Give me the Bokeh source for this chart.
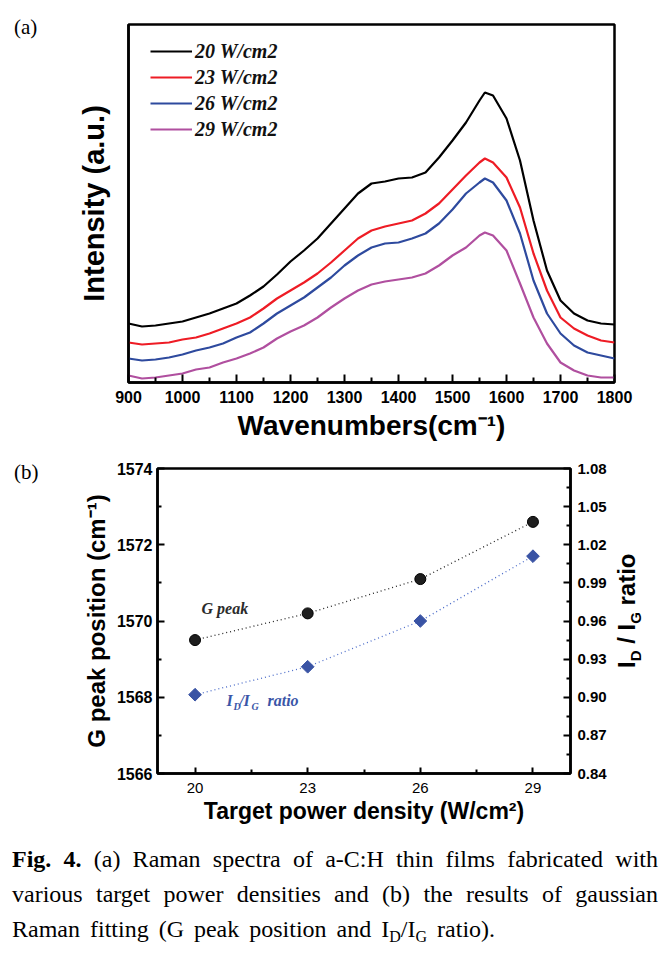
from math import pi
from bokeh.plotting import figure
from bokeh.models import (Range1d, LinearAxis, FixedTicker, Legend, LegendItem,
                          Label, Div, PrintfTickFormatter)
from bokeh.layouts import column, row
from bokeh.embed import file_html
from bokeh.resources import INLINE

# ---------------- data: (a) Raman spectra (arbitrary units) ----------------
wavenumber = [900, 925, 950, 975, 1000, 1025, 1050, 1075, 1100, 1125, 1150, 1175,
              1200, 1225, 1250, 1275, 1300, 1325, 1350, 1375, 1400, 1425, 1450, 1475,
              1500, 1525, 1550, 1560, 1575, 1600, 1625, 1650, 1675, 1700, 1725, 1750,
              1775, 1800]
spec_20 = [59, 56, 57, 59, 61, 65, 69, 74, 79, 87, 96, 108,
           121, 132, 144, 159, 174, 189, 199, 201, 204, 205, 210, 225,
           242, 260, 282, 290, 287, 264, 222, 162, 112, 82, 69, 62, 59, 58]
spec_23 = [40, 38, 39, 40, 43, 45, 49, 54, 59, 65, 74, 84,
           92, 100, 109, 120, 132, 144, 152, 156, 159, 162, 169, 179,
           193, 207, 220, 224, 220, 205, 175, 129, 92, 65, 54, 47, 42, 40]
spec_26 = [24, 22, 23, 25, 28, 32, 35, 39, 45, 50, 59, 69,
           77, 85, 95, 105, 117, 127, 135, 139, 140, 144, 149, 159,
           173, 189, 200, 204, 200, 182, 149, 102, 69, 49, 37, 30, 27, 24]
spec_29 = [7, 4, 5, 7, 9, 13, 15, 20, 24, 29, 35, 44,
           51, 57, 65, 75, 84, 92, 98, 101, 103, 105, 109, 117,
           127, 135, 147, 150, 147, 132, 99, 65, 39, 20, 12, 7, 5, 5]
series_labels = ["20 W/cm2", "23 W/cm2", "26 W/cm2", "29 W/cm2"]
series_colors = ["#000000", "#ee1c25", "#2e4a9e", "#b04f9f"]
xa_ticks = [900, 1000, 1100, 1200, 1300, 1400, 1500, 1600, 1700, 1800]
xa_minor = [950, 1050, 1150, 1250, 1350, 1450, 1550, 1650, 1750]

# ---------------- data: (b) fitting results ----------------
power = [20, 23, 26, 29]
g_peak = [1569.5, 1570.2, 1571.1, 1572.6]
id_ig = [0.902, 0.924, 0.960, 1.011]
xb_ticks = [20, 23, 26, 29]
xb_minor = [21.5, 24.5, 27.5]
yb_ticks = [1566, 1568, 1570, 1572, 1574]
yb_minor = [1567, 1569, 1571, 1573]
yr_ticks = [0.84, 0.87, 0.90, 0.93, 0.96, 0.99, 1.02, 1.05, 1.08]
yr_minor = [0.855, 0.885, 0.915, 0.945, 0.975, 1.005, 1.035, 1.065]

SANS = "Liberation Sans"
SERIF = "Liberation Serif"
BORDER_L = 80
BORDER_R = 44


def style_axis(ax, tick_in, minor_in, lab_size, lab_style, standoff):
    ax.axis_line_width = 2.5
    ax.axis_line_color = "black"
    ax.major_tick_line_width = 2
    ax.minor_tick_line_width = 2
    ax.major_tick_in = tick_in
    ax.major_tick_out = 0
    ax.minor_tick_in = minor_in
    ax.minor_tick_out = 0
    ax.major_label_text_font = SANS
    ax.major_label_text_font_style = lab_style
    ax.major_label_text_font_size = lab_size
    ax.major_label_text_color = "black"
    ax.major_label_standoff = standoff
    ax.axis_label_text_font = SANS
    ax.axis_label_text_font_style = "bold"
    ax.axis_label_text_color = "black"


def tag_div(text, w, h, top):
    html = ('<div style="position:relative;width:%dpx;height:%dpx;">'
            '<span style="position:absolute;left:14px;top:%.1fpx;font-family:\'Liberation Serif\',serif;'
            'font-size:21px;line-height:21px;white-space:nowrap;color:#000;">%s</span></div>'
            % (w, h, top, text))
    return Div(text=html, width=w, height=h, margin=0)


# ================= figure (a) =================
pa = figure(width=610, height=450, x_range=Range1d(900, 1800), y_range=Range1d(0, 358),
            output_backend="svg", toolbar_location=None,
            x_axis_location=None, y_axis_location=None,
            min_border_left=BORDER_L, min_border_right=BORDER_R, min_border_top=24,
            min_border_bottom=68)
pa.grid.visible = False
pa.outline_line_color = "black"
pa.outline_line_width = 2.5
pa.outline_line_alpha = 1

xa = LinearAxis(ticker=FixedTicker(ticks=xa_ticks, minor_ticks=xa_minor),
                axis_label="Wavenumbers(cm\u207b\u00b9)")
style_axis(xa, 8, 5, "16px", "bold", 8)
xa.axis_label_text_font_size = "28px"
xa.axis_label_standoff = 4
pa.add_layout(xa, "below")

ya = LinearAxis(ticker=FixedTicker(ticks=[]), axis_label="Intensity (a.u.)")
style_axis(ya, 0, 0, "16px", "bold", 0)
ya.axis_label_text_font_size = "29px"
ya.axis_label_standoff = 19
pa.add_layout(ya, "left")

items = []
for lab, col, ys in zip(series_labels, series_colors, [spec_20, spec_23, spec_26, spec_29]):
    r = pa.line(wavenumber, ys, line_color=col, line_width=2.2)
    items.append(LegendItem(label=lab, renderers=[r]))

leg = Legend(items=items, location=(0, 219), margin=0, padding=22,
             glyph_width=42, glyph_height=24, label_height=24, spacing=2,
             label_standoff=3, label_text_font=SERIF, label_text_font_size="20px",
             label_text_font_style="bold italic", label_text_color="#111111",
             border_line_alpha=0, background_fill_alpha=0)
pa.add_layout(leg)

row_a = row(tag_div("(a)", 48, 450, 17.4), pa, spacing=0)

# ================= figure (b) =================
pb = figure(width=537, height=380, x_range=Range1d(19, 30), y_range=Range1d(1566, 1574),
            output_backend="svg", toolbar_location=None,
            x_axis_location=None, y_axis_location=None,
            min_border_left=BORDER_L, min_border_right=BORDER_R, min_border_top=18,
            min_border_bottom=57)
pb.grid.visible = False
pb.outline_line_color = "black"
pb.outline_line_width = 2.5
pb.outline_line_alpha = 1
pb.extra_y_ranges = {"ratio": Range1d(0.84, 1.08)}

xb = LinearAxis(ticker=FixedTicker(ticks=xb_ticks, minor_ticks=xb_minor),
                axis_label="Target power density (W/cm\u00b2)")
style_axis(xb, 6, 4, "15px", "normal", 9)
xb.axis_label_text_font_size = "23px"
xb.axis_label_standoff = 2
pb.add_layout(xb, "below")

yb = LinearAxis(ticker=FixedTicker(ticks=yb_ticks, minor_ticks=yb_minor),
                formatter=PrintfTickFormatter(format="%d"),
                axis_label="G peak position (cm\u207b\u00b9)")
style_axis(yb, 7, 4, "16px", "bold", 5)
yb.axis_label_text_font_size = "24px"
yb.axis_label_standoff = 4
pb.add_layout(yb, "left")

yr = LinearAxis(y_range_name="ratio",
                ticker=FixedTicker(ticks=yr_ticks, minor_ticks=yr_minor),
                formatter=PrintfTickFormatter(format="%.2f"))
style_axis(yr, 7, 4, "15px", "bold", 7)
pb.add_layout(yr, "right")

pb.line(power, g_peak, line_color="#222222", line_width=1.3, line_dash="1 3")
pb.line(power, id_ig, y_range_name="ratio", line_color="#4a6bc9", line_width=1.3,
        line_dash="1 3")
pb.scatter(power, g_peak, marker="circle", size=11, fill_color="#1e1e1e",
           line_color="#000000", line_width=1)
pb.scatter(power, id_ig, y_range_name="ratio", marker="square", angle=pi / 4, size=9,
           fill_color="#3953a4", line_color="#3953a4")


def note(text, dx, dy, size, color, style="bold italic", font=SERIF):
    pb.add_layout(Label(x=19, y=1566, x_offset=dx, y_offset=dy, text=text,
                        text_font=font, text_font_size=size, text_font_style=style,
                        text_color=color, text_baseline="alphabetic", text_align="left"))


note("G peak", 44, 165, "16px", "#2b2b2b")
blue_txt = "#3a56a8"
note("I", 69, 73, "16px", blue_txt)
note("D", 76, 67, "10px", blue_txt)
note("/", 82, 73, "16px", blue_txt)
note("I", 86, 73, "16px", blue_txt)
note("G", 94, 67, "10px", blue_txt)
note("ratio", 110, 73, "16px", blue_txt)

# right-hand axis title, rotated (reads bottom to top)
sub = '<span style="font-size:15px;line-height:15px;vertical-align:-6px;">%s</span>'
right_html = (
    '<div style="position:relative;width:56px;height:380px;">'
    '<div style="position:absolute;left:0.7px;top:218px;transform:rotate(-90deg);'
    'transform-origin:0 0;white-space:nowrap;font-family:\'Liberation Sans\',sans-serif;'
    'font-weight:bold;font-size:24px;line-height:24px;color:#000;">'
    'I' + sub % 'D' + ' / I' + sub % 'G' + ' ratio</div></div>'
)
right_div = Div(text=right_html, width=56, height=380, margin=0)

row_b = row(tag_div("(b)", 77, 380, 12.4), pb, right_div, spacing=0)

# ================= caption =================
csub = '<span style="font-size:16px;line-height:16px;vertical-align:-5px;">%s</span>'
just = ('white-space:normal;text-align:justify;text-align-last:justify;'
        'text-justify:inter-word;width:646px;')
caption_html = (
    '<div style="margin:12px 12px 0 12px;width:646px;font-family:\'Liberation Serif\',serif;'
    'font-size:24px;line-height:35px;color:#000;white-space:normal;">'
    '<div style="' + just + '">'
    '<b>Fig. 4.</b> (a) Raman spectra of a-C:H thin films fabricated with</div>'
    '<div style="' + just + '">'
    'various target power densities and (b) the results of gaussian</div>'
    '<div style="white-space:normal;text-align:left;word-spacing:4px;">'
    'Raman fitting (G peak position and I' + csub % 'D' + '/I' + csub % 'G' + ' ratio).</div>'
    '</div>'
)
caption = Div(text=caption_html, width=670, height=120, margin=0)

layout = column(row_a, row_b, caption, spacing=0)
open("out.html", "w").write(file_html(layout, INLINE))
